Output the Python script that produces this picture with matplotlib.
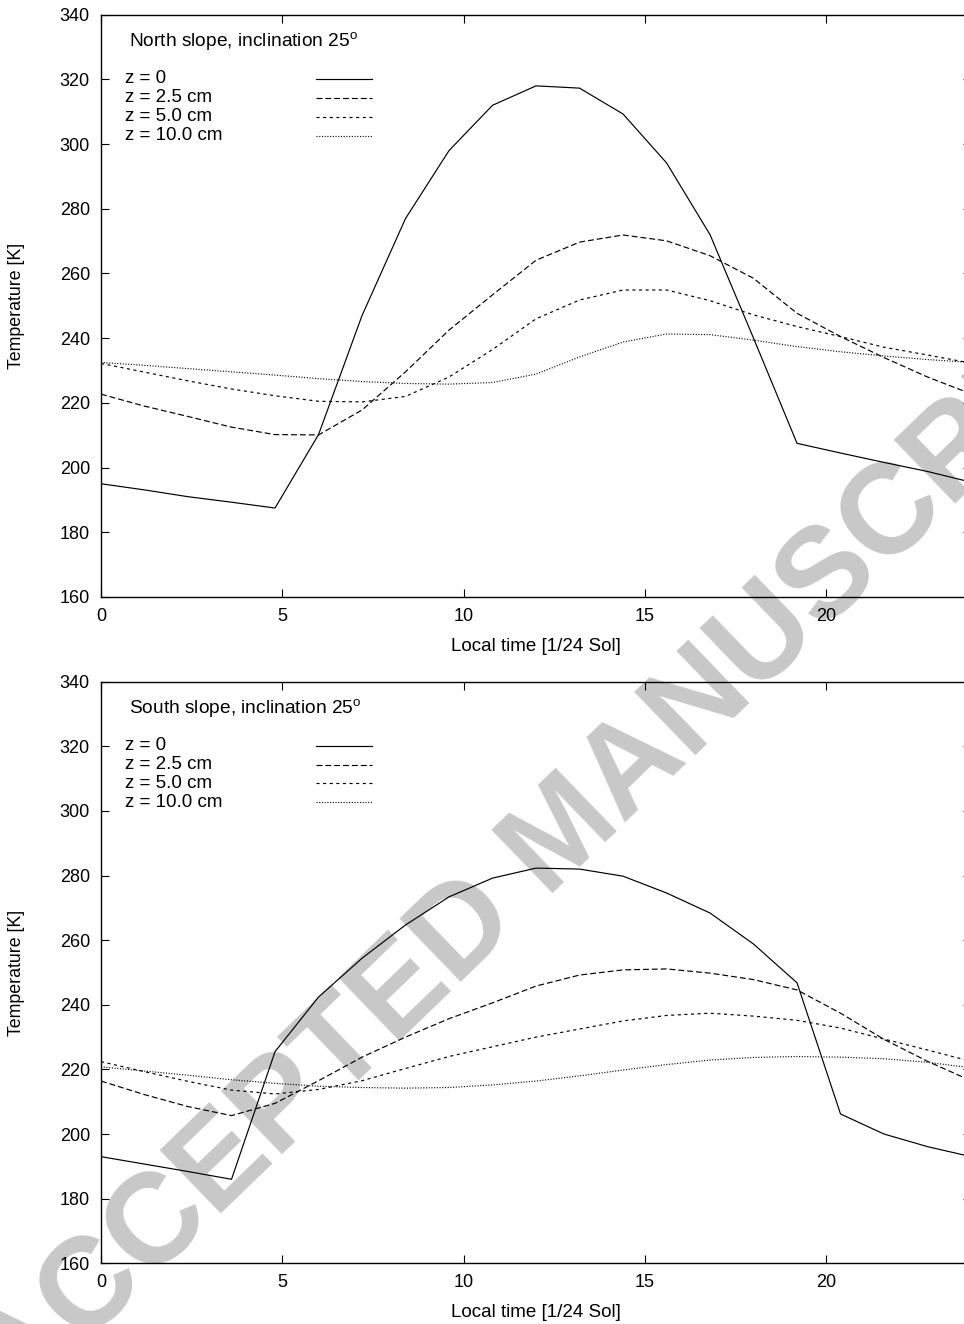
import matplotlib
matplotlib.use("Agg")
import matplotlib.pyplot as plt

plt.rcParams['font.family'] = ['Liberation Sans', 'DejaVu Sans']
plt.rcParams['mathtext.fontset'] = 'custom'
plt.rcParams['mathtext.rm'] = 'Liberation Sans'

# local time, 1/24 sol
hours = [0.0, 1.2, 2.4, 3.6, 4.8, 6.0, 7.2, 8.4, 9.6, 10.8, 12.0,
         13.2, 14.4, 15.6, 16.8, 18.0, 19.2, 20.4, 21.6, 22.8, 24.0]

# north slope temperatures [K]
north_z0 = [195.0, 193.1, 191.0, 189.3, 187.5, 210.2, 247.0, 277.0, 298.0, 312.0, 318.0,
            317.3, 309.3, 294.2, 272.0, 240.0, 207.5, 204.5, 201.6, 198.8, 195.5]
north_z25 = [222.7, 219.0, 215.8, 212.5, 210.2, 210.1, 217.8, 229.6, 242.5, 253.4, 264.1,
             269.7, 271.9, 270.1, 265.5, 258.5, 247.7, 240.5, 234.0, 228.0, 222.8]
north_z50 = [232.2, 229.5, 226.8, 224.3, 222.2, 220.5, 220.3, 222.0, 228.0, 236.5, 246.0,
             251.8, 254.9, 254.9, 251.6, 247.2, 243.6, 240.5, 237.2, 234.8, 232.3]
north_z100 = [232.5, 231.6, 230.6, 229.6, 228.6, 227.5, 226.6, 226.0, 225.8, 226.3, 228.9,
              234.2, 238.8, 241.3, 241.1, 239.4, 237.4, 235.8, 234.5, 233.4, 232.5]

# south slope temperatures [K]
south_z0 = [193.0, 190.7, 188.4, 186.0, 225.5, 242.4, 254.4, 264.7, 273.4, 279.2, 282.3,
            282.0, 279.8, 274.6, 268.4, 258.8, 246.8, 206.2, 200.0, 196.1, 193.0]
south_z25 = [216.4, 212.2, 208.5, 205.7, 209.5, 216.5, 223.8, 230.0, 235.7, 240.6, 245.8,
             249.2, 250.8, 251.1, 249.8, 247.8, 244.6, 237.4, 229.3, 222.5, 216.5]
south_z50 = [222.4, 219.3, 216.3, 213.6, 212.4, 213.8, 216.5, 220.3, 224.0, 227.0, 230.0,
             232.5, 235.0, 236.7, 237.4, 236.5, 235.2, 232.8, 229.4, 226.0, 222.5]
south_z100 = [220.8, 219.5, 218.2, 216.8, 215.7, 214.8, 214.4, 214.2, 214.4, 215.2, 216.4,
              218.0, 219.8, 221.5, 222.9, 223.7, 224.0, 223.8, 223.3, 222.2, 220.5]

labels = ["z = 0", "z = 2.5 cm", "z = 5.0 cm", "z = 10.0 cm"]
styles = [dict(ls='-'), dict(ls=(0, (5, 2.5))), dict(ls=(0, (2.6, 3.0))), dict(ls=(0, (0.9, 1.4)))]

fig = plt.figure(figsize=(9.64, 13.24), dpi=100)
ax1 = fig.add_axes([0.1048, 0.5491, 0.9025, 0.4398])
ax2 = fig.add_axes([0.1048, 0.04585, 0.9025, 0.4393])

fig.text(0.586, 0.369, "ACCEPTED MANUSCRIPT", rotation=44, rotation_mode='anchor',
         ha='center', va='center', fontsize=92, fontweight='bold',
         color='#c8c8c8', zorder=-5)


def panel(ax, title, series):
    ax.patch.set_alpha(0)
    for ys, st in zip(series, styles):
        ax.plot(hours, ys, color='black', lw=0.85, **st)
    ax.set_xlim(0, 24)
    ax.set_ylim(160, 340)
    ax.set_xticks([0, 5, 10, 15, 20])
    ax.set_yticks(range(160, 341, 20))
    ax.tick_params(direction='in', length=5.8, width=0.8, top=True, right=True,
                   labelsize=13, pad=8)
    for s in ax.spines.values():
        s.set_linewidth(1.0)
    ax.set_xlabel("Local time [1/24 Sol]", fontsize=13.5, labelpad=9)
    ax.set_ylabel("Temperature [K]", fontsize=12.8)
    ax.yaxis.set_label_coords(-0.087, 0.5)
    ax.text(0.032, 0.954, title, transform=ax.transAxes, fontsize=13.8, va='center')
    # key, gnuplot style: text on the left, sample on the right
    for i, (lab, st) in enumerate(zip(labels, styles)):
        y = 0.890 - i * 0.0325
        ax.text(0.0276, y, lab, transform=ax.transAxes, fontsize=13.5, va='center')
        ax.plot([0.247, 0.3115], [y, y], transform=ax.transAxes, color='black', lw=0.85, **st)


panel(ax1, r"North slope, inclination 25$^{\rm o}$", [north_z0, north_z25, north_z50, north_z100])
panel(ax2, r"South slope, inclination 25$^{\rm o}$", [south_z0, south_z25, south_z50, south_z100])

fig.savefig("out.png", dpi=100)
